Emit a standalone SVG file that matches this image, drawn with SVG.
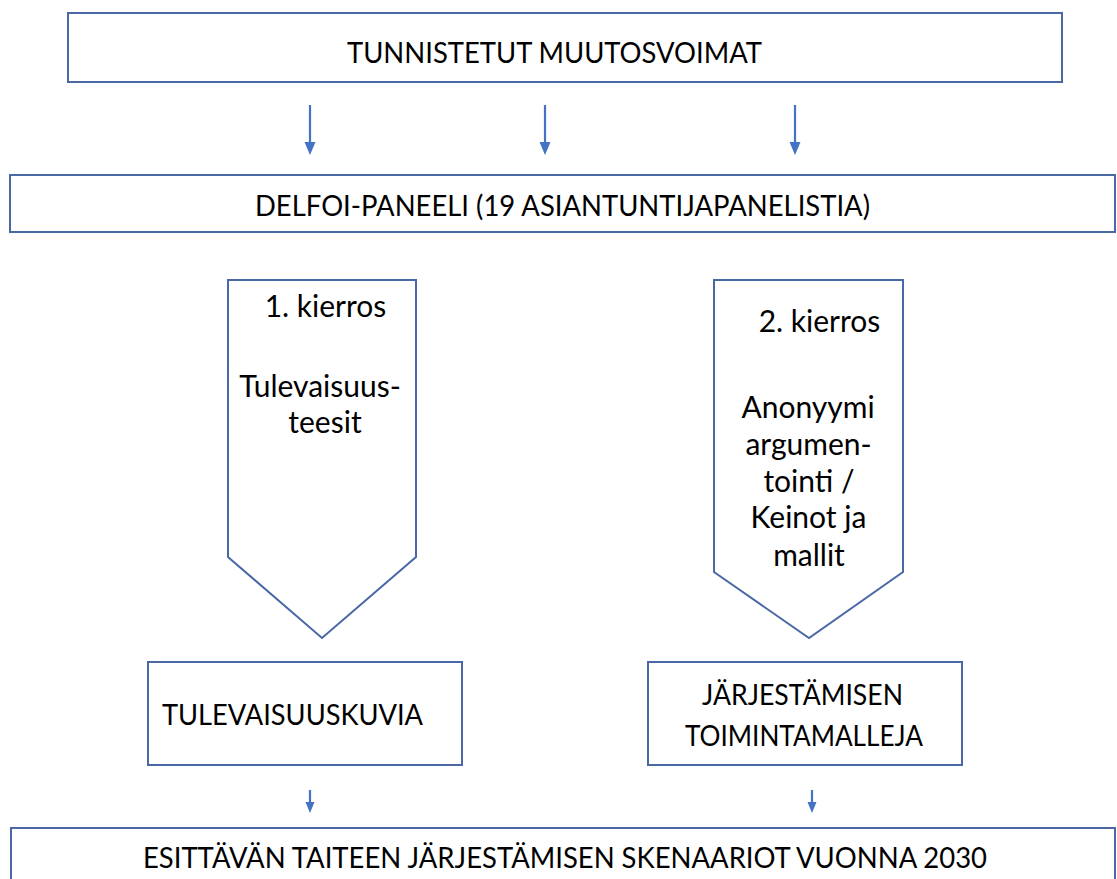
<svg xmlns="http://www.w3.org/2000/svg" width="1117" height="879" viewBox="0 0 1117 879">
<style>
.box{fill:#ffffff;stroke:#4a68a6;stroke-width:2}
.t{font-family:Lato,"Open Sans","Liberation Sans",sans-serif;font-size:28px;fill:#000000}
.s{font-size:30px}
.m{text-anchor:middle}
.arr{stroke:#4472c4;stroke-width:2.2;fill:none}
.head{fill:#4472c4}
</style>
<rect width="1117" height="879" fill="#ffffff"/>
<g id="connectors">
<line class="arr" x1="310" y1="105" x2="310" y2="144"/><polygon class="head" points="304.5,142 315.5,142 310,155"/>
<line class="arr" x1="545" y1="105" x2="545" y2="144"/><polygon class="head" points="539.5,142 550.5,142 545,155"/>
<line class="arr" x1="795" y1="105" x2="795" y2="144"/><polygon class="head" points="789.5,142 800.5,142 795,155"/>
<line class="arr" x1="310" y1="790" x2="310" y2="803"/><polygon class="head" points="305.5,802 314.5,802 310,813"/>
<line class="arr" x1="812" y1="790" x2="812" y2="803"/><polygon class="head" points="807.5,802 816.5,802 812,813"/>
</g>
<g id="muutosvoimat">
<rect class="box" x="68" y="13" width="994" height="69"/>
<text class="t m" x="554.5" y="63" textLength="415" lengthAdjust="spacingAndGlyphs">TUNNISTETUT MUUTOSVOIMAT</text>
</g>
<g id="delfoi">
<rect class="box" x="10" y="175" width="1105" height="57"/>
<text class="t m" x="562.5" y="216" textLength="615" lengthAdjust="spacingAndGlyphs">DELFOI-PANEELI (19 ASIANTUNTIJAPANELISTIA)</text>
</g>
<g id="kierros1">
<polygon class="box" points="228,280 416,280 416,557 322,638 228,557"/>
<text class="t s m" x="325.5" y="317">1. kierros</text>
<text class="t s m" x="320" y="397">Tulevaisuus-</text>
<text class="t s m" x="325" y="433">teesit</text>
</g>
<g id="kierros2">
<polygon class="box" points="714,280 903,280 903,572 809,638 714,572"/>
<text class="t s m" x="819.5" y="332">2. kierros</text>
<text class="t s m" x="808" y="418">Anonyymi</text>
<text class="t s m" x="808.5" y="455">argumen-</text>
<text class="t s m" x="809" y="492">tointi /</text>
<text class="t s m" x="808.5" y="528">Keinot ja</text>
<text class="t s m" x="809" y="566">mallit</text>
</g>
<g id="tulevaisuuskuvia">
<rect class="box" x="148" y="662" width="314" height="103"/>
<text class="t" x="162" y="725" textLength="261" lengthAdjust="spacingAndGlyphs">TULEVAISUUSKUVIA</text>
</g>
<g id="toimintamalleja">
<rect class="box" x="648" y="662" width="314" height="103"/>
<text class="t m" x="802.5" y="705" textLength="201" lengthAdjust="spacingAndGlyphs">JÄRJESTÄMISEN</text>
<text class="t m" x="804" y="746" textLength="238" lengthAdjust="spacingAndGlyphs">TOIMINTAMALLEJA</text>
</g>
<g id="skenaariot">
<rect class="box" x="11" y="828" width="1104" height="70"/>
<text class="t m" x="565" y="868" textLength="844" lengthAdjust="spacingAndGlyphs">ESITTÄVÄN TAITEEN JÄRJESTÄMISEN SKENAARIOT VUONNA 2030</text>
</g>
</svg>
